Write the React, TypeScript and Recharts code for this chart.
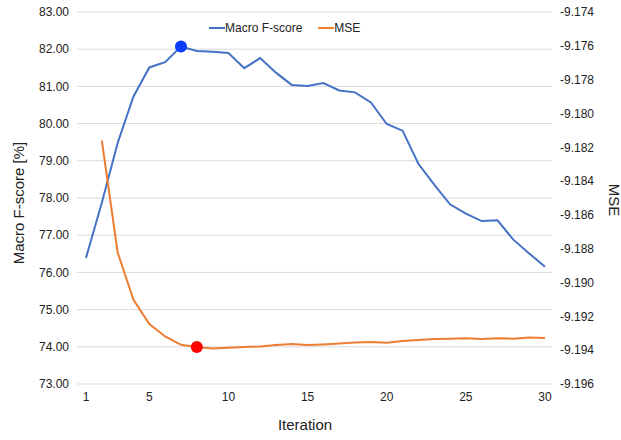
import React from 'react';
import {
  LineChart,
  Line,
  XAxis,
  YAxis,
  CartesianGrid,
  ReferenceDot,
  Label,
} from 'recharts';

// Iterations on the x axis
const iterations = [
  1, 2, 3, 4, 5, 6, 7, 8, 9, 10, 11, 12, 13, 14, 15, 16, 17, 18, 19, 20, 21, 22, 23, 24, 25, 26, 27, 28, 29, 30,
];

// Macro F-score [%] (left axis)
const macroF = [
  76.39, 77.87, 79.48, 80.73, 81.51, 81.65, 82.07, 81.95, 81.93, 81.9, 81.49, 81.76, 81.37, 81.04, 81.01, 81.09,
  80.89, 80.84, 80.57, 79.99, 79.81, 78.92, 78.36, 77.83, 77.58, 77.38, 77.4, 76.88, 76.51, 76.15,
];

// MSE (right axis), no value for the first iteration
const mse = [
  null, -9.1816, -9.18822, -9.19102, -9.19246, -9.19319, -9.19368, -9.19381, -9.1939, -9.19386, -9.19381, -9.19378,
  -9.1937, -9.19364, -9.1937, -9.19366, -9.1936, -9.19354, -9.19352, -9.19356, -9.19346, -9.1934, -9.19334, -9.19332,
  -9.1933, -9.19334, -9.1933, -9.19332, -9.19325, -9.19328,
];

const xTicks = [1, 5, 10, 15, 20, 25, 30];
const leftTicks = [73, 74, 75, 76, 77, 78, 79, 80, 81, 82, 83];
const rightTicks = [
  -9.196, -9.194, -9.192, -9.19, -9.188, -9.186, -9.184, -9.182, -9.18, -9.178, -9.176, -9.174,
];

// highlighted points
const bestFIteration = 7;
const bestMseIteration = 8;

const BLUE = '#4472c4';
const ORANGE = '#ed7d31';
const FONT = 'Arial, "Liberation Sans", sans-serif';
const TEXT = '#222222';

const series = [
  { key: 'macroF', name: 'Macro F-score', color: BLUE },
  { key: 'mse', name: 'MSE', color: ORANGE },
];

const data = iterations.map((iter, i) => ({
  iter,
  macroF: macroF[i],
  mse: mse[i],
}));

const tickStyle = { fontSize: 12, fill: TEXT, fontFamily: FONT };

const App: React.FC = () => {
  const bestF = data.find((d) => d.iter === bestFIteration)!;
  const bestMse = data.find((d) => d.iter === bestMseIteration)!;

  return (
    <div style={{ position: 'relative', width: 621, height: 440, fontFamily: FONT }}>
      <style>{'body{margin:0}'}</style>
      <LineChart width={621} height={440} data={data} margin={{ top: 12, right: 0, bottom: 0, left: 0 }}>
        <CartesianGrid yAxisId="left" vertical={false} stroke="#d9d9d9" strokeWidth={1} />
        <XAxis
          dataKey="iter"
          type="number"
          domain={[1, 30]}
          ticks={xTicks}
          axisLine={false}
          tickLine={false}
          height={56}
          padding={{ left: 9, right: 7 }}
          tick={tickStyle}
        >
          <Label
            content={() => (
              <text x={305} y={430} textAnchor="middle" fontSize={15} fill={TEXT} fontFamily={FONT}>
                Iteration
              </text>
            )}
          />
        </XAxis>
        <YAxis
          yAxisId="left"
          orientation="left"
          width={77}
          domain={[73, 83]}
          ticks={leftTicks}
          axisLine={false}
          tickLine={false}
          tick={tickStyle}
          tickFormatter={(v: number) => v.toFixed(2)}
        >
          <Label
            content={() => (
              <text
                x={18}
                y={203}
                transform="rotate(-90 18 203)"
                textAnchor="middle"
                dominantBaseline="central"
                fontSize={15}
                fill={TEXT}
                fontFamily={FONT}
              >
                Macro F-score [%]
              </text>
            )}
          />
        </YAxis>
        <YAxis
          yAxisId="right"
          orientation="right"
          width={69}
          domain={[-9.196, -9.174]}
          ticks={rightTicks}
          axisLine={false}
          tickLine={false}
          tick={tickStyle}
          tickFormatter={(v: number) => v.toFixed(3)}
        >
          <Label
            content={() => (
              <text
                x={614}
                y={200}
                transform="rotate(90 614 200)"
                textAnchor="middle"
                dominantBaseline="central"
                fontSize={15}
                fill={TEXT}
                fontFamily={FONT}
              >
                MSE
              </text>
            )}
          />
        </YAxis>
        <Line
          yAxisId="left"
          type="linear"
          dataKey="macroF"
          name="Macro F-score"
          stroke={BLUE}
          strokeWidth={2}
          dot={false}
          activeDot={false}
          isAnimationActive={false}
        />
        <Line
          yAxisId="right"
          type="linear"
          dataKey="mse"
          name="MSE"
          stroke={ORANGE}
          strokeWidth={2}
          dot={false}
          activeDot={false}
          isAnimationActive={false}
        />
        <ReferenceDot yAxisId="left" x={bestF.iter} y={bestF.macroF} r={6} fill="#0a3bff" stroke="none" />
        <ReferenceDot yAxisId="right" x={bestMse.iter} y={bestMse.mse as number} r={6} fill="#ff0000" stroke="none" />
      </LineChart>

      {/* legend */}
      <div
        style={{
          position: 'absolute',
          top: 21,
          left: 209,
          display: 'flex',
          alignItems: 'center',
          gap: 16,
          fontSize: 12,
          color: TEXT,
          lineHeight: '14px',
        }}
      >
        {series.map((s) => (
          <div key={s.key} style={{ display: 'flex', alignItems: 'center' }}>
            <span style={{ display: 'inline-block', width: 16, height: 2, background: s.color }} />
            <span>{s.name}</span>
          </div>
        ))}
      </div>
    </div>
  );
};

export default App;
